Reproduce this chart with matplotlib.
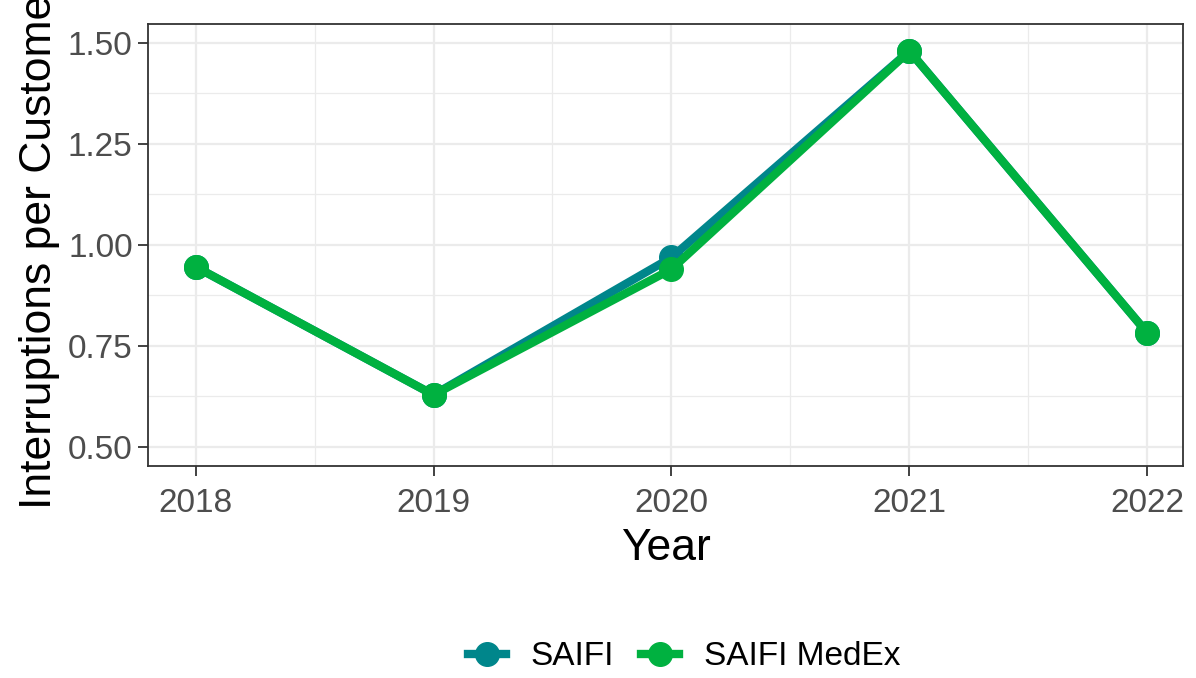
import matplotlib
matplotlib.use("Agg")
import matplotlib.pyplot as plt
from matplotlib.ticker import MultipleLocator

years = [2018, 2019, 2020, 2021, 2022]
saifi = [0.946, 0.629, 0.969, 1.480, 0.782]
saifi_medex = [0.946, 0.629, 0.940, 1.480, 0.782]

plt.rcParams['font.family'] = ['Liberation Sans', 'DejaVu Sans']

fig = plt.figure(figsize=(11.96, 6.78), dpi=100)
ax = fig.add_axes([0.1237, 0.3127, 0.8655, 0.652])

ax.plot(years, saifi, color='#00868B', lw=6, marker='o', ms=17, label='SAIFI', zorder=3)
ax.plot(years, saifi_medex, color='#00B140', lw=6, marker='o', ms=17, label='SAIFI MedEx', zorder=4)

ax.set_xlim(2017.80, 2022.15)
ax.set_ylim(0.453, 1.547)
ax.set_xticks(years)
ax.set_xticklabels([str(y) for y in years])
ax.set_yticks([0.50, 0.75, 1.00, 1.25, 1.50])
ax.set_yticklabels(['0.50', '0.75', '1.00', '1.25', '1.50'])
ax.xaxis.set_minor_locator(MultipleLocator(0.5))
ax.yaxis.set_minor_locator(MultipleLocator(0.125))

ax.grid(which='major', color='#EBEBEB', lw=1.6)
ax.grid(which='minor', color='#EBEBEB', lw=0.9)
ax.set_axisbelow(True)
for s in ax.spines.values():
    s.set_color('#333333')
    s.set_linewidth(1.3)
ax.tick_params(which='major', length=7, width=1.3, color='#333333', labelcolor='#4D4D4D', labelsize=24, pad=4)
ax.tick_params(axis='x', which='major', pad=9)
ax.tick_params(which='minor', length=0)

ax.set_xlabel('Year', fontsize=32, labelpad=6)
ax.set_ylabel('Interruptions per Customer', fontsize=32, labelpad=6)

ax.legend(loc='center', bbox_to_anchor=(0.572, 0.031), bbox_transform=fig.transFigure,
          ncol=2, frameon=False, fontsize=24, handlelength=1.15, markerscale=1.0,
          columnspacing=0.8, handletextpad=0.75)

fig.savefig('out.png', dpi=100)
